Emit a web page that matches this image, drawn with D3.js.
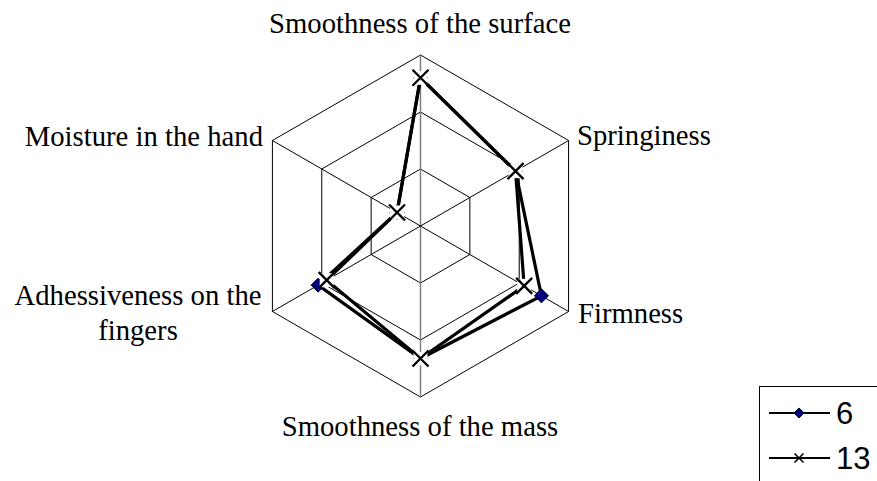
<!DOCTYPE html>
<html>
<head>
<meta charset="utf-8">
<script src="https://cdn.jsdelivr.net/npm/d3@7"></script>
<style>
  body { margin: 0; background: #fff; }
  svg { display: block; }
</style>
</head>
<body>
<div class="canvas"></div>
<script>
// Data
const axesNames = [
  ['Smoothness of the surface'],
  ['Springiness'],
  ['Firmness'],
  ['Smoothness of the mass'],
  ['Adhessiveness on the', 'fingers'],
  ['Moisture in the hand']
]
const seriesNames = ['6', '13']
const values6 = [5.2, 3.85, 4.9, 4.65, 4.15, 0.95]
const values13 = [5.2, 3.85, 4.2, 4.65, 3.8, 0.95]
const levels = [2, 4, 6]

const width = 877
const height = 481
const cx = 420.5
const cy = 226
const radius = 171

const svg = d3.select('.canvas')
  .append('svg')
  .attr('width', width)
  .attr('height', height)

const r = d3.scaleLinear().domain([0, 6]).range([0, radius])
const angle = i => i * Math.PI / 3

const point = (v, i) => [cx + r(v) * Math.sin(angle(i)), cy - r(v) * Math.cos(angle(i))]

// Grid hexagons
const grid = svg.append('g')
levels.forEach(l => {
  const pts = axesNames.map((d, i) => point(l, i))
  grid.append('polygon')
    .attr('points', pts.map(p => p.join(',')).join(' '))
    .attr('fill', 'none')
    .attr('stroke', '#000')
    .attr('stroke-width', 1)
})

// Spokes
axesNames.forEach((d, i) => {
  const p = point(6, i)
  grid.append('line')
    .attr('x1', cx).attr('y1', cy)
    .attr('x2', p[0]).attr('y2', p[1])
    .attr('stroke', i % 3 === 0 ? '#808080' : '#000')
    .attr('stroke-width', i % 3 === 0 ? 1.5 : 1)
})

// Axis labels
const labelPos = [
  { x: 420, y: 33, anchor: 'middle' },
  { x: 577, y: 145, anchor: 'start' },
  { x: 578, y: 323, anchor: 'start' },
  { x: 420, y: 436, anchor: 'middle' },
  { x: 138, y: 305, anchor: 'middle' },
  { x: 263, y: 146, anchor: 'end' }
]
axesNames.forEach((lines, i) => {
  const t = svg.append('text')
    .attr('x', labelPos[i].x)
    .attr('y', labelPos[i].y)
    .attr('text-anchor', labelPos[i].anchor)
    .attr('font-family', 'Liberation Serif, Times New Roman, serif')
    .attr('font-size', 28.7)
    .attr('fill', '#000')
  lines.forEach((s, j) => {
    t.append('tspan')
      .attr('x', labelPos[i].x)
      .attr('dy', j === 0 ? 0 : 35)
      .text(s)
  })
})

// Series
const line = d3.line().curve(d3.curveLinearClosed)

const diamond = (g, x, y, size) => {
  g.append('path')
    .attr('d', d3.symbol(d3.symbolDiamond2, size || 125)())
    .attr('transform', `translate(${x},${y})`)
    .attr('fill', '#000080')
    .attr('stroke', '#000')
    .attr('stroke-width', 1)
}

const cross = (g, x, y, s, w, halo) => {
  s = s || 7
  if (halo) {
    g.append('rect')
      .attr('x', x - s + 1).attr('y', y - s + 1)
      .attr('width', 2 * s - 2).attr('height', 2 * s - 2)
      .attr('fill', '#fff')
  }
  g.append('path')
    .attr('d', `M${x - s},${y - s}L${x + s},${y + s}M${x - s},${y + s}L${x + s},${y - s}`)
    .attr('stroke', '#000')
    .attr('stroke-width', w || 2.2)
}

const pts6 = values6.map((v, i) => point(v, i))
const pts13 = values13.map((v, i) => point(v, i))

svg.append('path')
  .attr('d', line(pts6))
  .attr('fill', 'none')
  .attr('stroke', '#000')
  .attr('stroke-width', 3.2)
svg.append('path')
  .attr('d', line(pts13))
  .attr('fill', 'none')
  .attr('stroke', '#000')
  .attr('stroke-width', 3.2)
pts6.forEach(p => diamond(svg, p[0], p[1]))
pts13.forEach(p => cross(svg, p[0], p[1], 8, 2.3, true))

// Legend
const legend = svg.append('g')
legend.append('rect')
  .attr('x', 759.5).attr('y', 386.5)
  .attr('width', 130).attr('height', 120)
  .attr('fill', '#fff')
  .attr('stroke', '#000')
  .attr('stroke-width', 1)

const legendRows = [
  { name: seriesNames[0], y: 413, mark: (g, x, y) => diamond(g, x, y, 65) },
  { name: seriesNames[1], y: 458, mark: (g, x, y) => cross(g, x, y, 4.5, 1.6, false) }
]
legendRows.forEach(d => {
  legend.append('line')
    .attr('x1', 769).attr('x2', 830)
    .attr('y1', d.y).attr('y2', d.y)
    .attr('stroke', '#000')
    .attr('stroke-width', 2)
  d.mark(legend, 799, d.y)
  legend.append('text')
    .attr('x', 836)
    .attr('y', d.y + 11)
    .attr('font-family', 'Liberation Sans, Arial, sans-serif')
    .attr('font-size', 31)
    .text(d.name)
})
</script>
</body>
</html>
